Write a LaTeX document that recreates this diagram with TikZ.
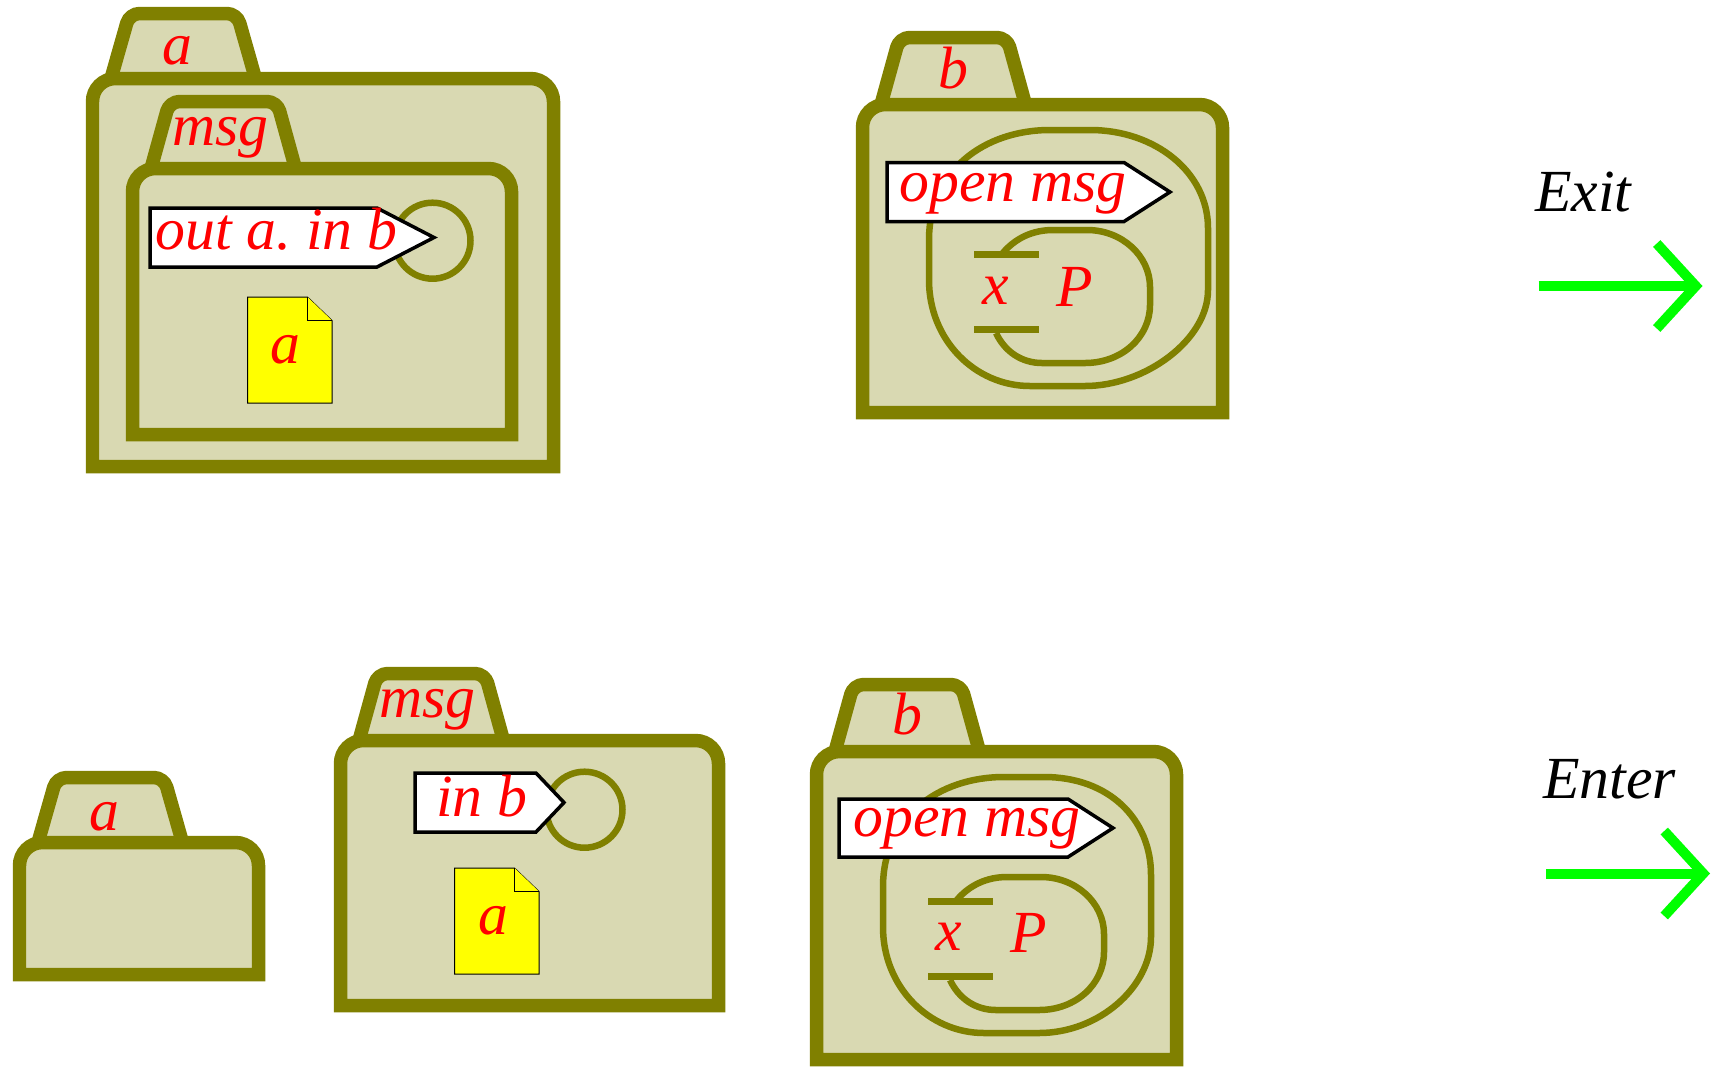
\documentclass[tikz,border=0pt]{standalone}
\usepackage{fontspec}
\setmainfont{Liberation Serif}
\usetikzlibrary{arrows.meta}

\definecolor{ambline}{HTML}{808000}
\definecolor{ambfill}{HTML}{D9D9B2}
\definecolor{docfill}{HTML}{FFFF00}
\definecolor{stepgreen}{HTML}{00FF00}
\definecolor{labred}{HTML}{FF0000}

\begin{document}
\frenchspacing
\begin{tikzpicture}[x=0.02cm, y=-0.02cm,
	ambient/.style={draw=ambline, fill=ambfill, line width=0.27cm},
	capline/.style={draw=ambline, line width=0.13cm},
	capbar/.style={draw=ambline, line width=0.14cm},
	captag/.style={draw=black, fill=white, line width=0.07cm},
	docfile/.style={draw=black, fill=docfill, line width=0.02cm},
	steparrow/.style={draw=stepgreen, line width=0.2cm, -{Straight Barb[length=0.78cm, width=1.7cm]}},
	lab/.style={anchor=base west, inner sep=0pt, text=labred, font=\fontsize{34}{40}\selectfont\itshape},
	rulelab/.style={lab, text=black}]
	\useasboundingbox (0,0) rectangle (1711,1066);
	% folders, outer ones first
	\foreach \lf/\tp/\rt/\bt/\tb in {92.5/78.5/553.5/466.5/13.5, 132.5/168.5/511.5/434.5/101.5, 862.5/104.5/1222.5/412.5/37.5, 19.5/842.5/258.5/974.5/777.5, 340.5/740.5/718.5/1005.5/673.5, 816.5/751.5/1176.5/1059.5/684.5} {
		\draw[ambient, rounded corners=0.2cm] ({\lf+18.5},\tp) -- ({\lf+37},\tb) -- ({\lf+144.5},\tb) -- ({\lf+163},\tp);
		\draw[ambient] (\lf,\bt) [rounded corners=0.46cm] -- (\lf,\tp) -- (\rt,\tp) -- (\rt,{\tp+50}) [sharp corners] -- (\rt,\bt) -- cycle;
	}
	% circles under the out and in tags
	\foreach \x/\y in {432.5/240.7, 584.5/809.7}
		\draw[capline] (\x,\y) circle (38);
	% restriction with the input inside, upper and lower copy
	\foreach \dx/\dy/\rt in {0/0/1208, -46/647/1197} {
		\begin{scope}[shift={(\dx,\dy)}]
			\draw[capline] (1050,130) -- (1090,130) .. controls (1155,130) and (\rt,172) .. (\rt,228) -- (\rt,290) .. controls (\rt,340) and (1145,386) .. (1085,386) -- (1030,386) .. controls (975,386) and (929,340) .. (929,280) -- (929,240) .. controls (929,170) and (985,130) .. (1050,130) -- cycle;
			\draw[capline] (1002,254) .. controls (1015,238) and (1033,230) .. (1053,230) -- (1087,230) .. controls (1122,230) and (1150,256) .. (1150,287) -- (1150,305) .. controls (1150,337) and (1122,363) .. (1085,363) -- (1042,363) .. controls (1022,363) and (1005,352) .. (996,333);
			\draw[capbar] (974,254.5) -- (1039,254.5);
			\draw[capbar] (974,329.5) -- (1039,329.5);
		\end{scope}
	}
	% capability tags
	\foreach \lf/\tp/\bt/\sh/\tip in {150/208/267/377/434, 887/162.5/221.5/1124/1170, 415/773/832/536/564, 839/799/857/1068/1113} {
		\draw[captag] (\lf,\tp) -- (\sh,\tp) -- (\tip,{(\tp+\bt)/2}) -- (\sh,\bt) -- (\lf,\bt) -- cycle;
	}
	% documents
	\foreach \lf/\tp in {247.5/297, 454.5/868} {
		\draw[docfile] (\lf,\tp) -- ({\lf+60},\tp) -- ({\lf+84.5},{\tp+23.5}) -- ({\lf+84.5},{\tp+106}) -- (\lf,{\tp+106}) -- cycle;
		\draw[docfile] ({\lf+60},\tp) -- ({\lf+60},{\tp+23.5}) -- ({\lf+84.5},{\tp+23.5});
	}
	% labels
	\foreach \n/\x/\y/\txt in {taba/162/64.5/a, tabmsg/172/145/msg, tagout/155/249/out a. in b, doca/270/363.5/a, tabb/938/88/b, tagopen/899/201/open msg, varx/982/304/x, procp/1056/306/P, lowa/89/830/a, lowmsg/379/717.5/msg, tagin/436/816.5/in b, lowdoc/478/934.5/a, lowb/892/734.5/b, lowopen/853/836.5/open msg, lowx/935/950/x, lowp/1010/952.5/P} {
		\node[lab] (\n) at (\x,\y) {\txt};
	}
	\node[rulelab] (exit) at (1535,211) {Exit};
	\node[rulelab] (enter) at (1543,798) {Enter};
	\coordinate (exitfrom) at (1538.5,286);
	\coordinate (exitto) at (1702.5,286);
	\coordinate (enterfrom) at (1546,873.5);
	\coordinate (enterto) at (1710,873.5);
	\draw[steparrow] (exitfrom) -- (exitto);
	\draw[steparrow] (enterfrom) -- (enterto);
\end{tikzpicture}
\end{document}
